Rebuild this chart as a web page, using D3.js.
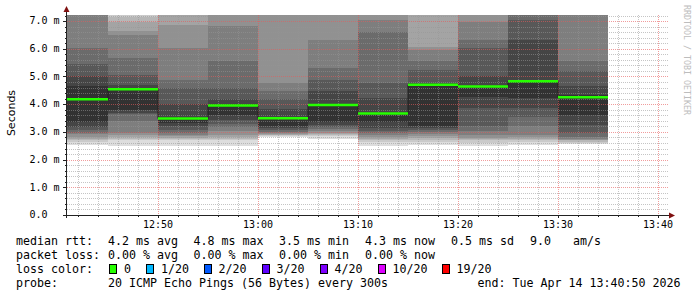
<!DOCTYPE html>
<html>
<head>
<meta charset="utf-8">
<script src="https://cdn.jsdelivr.net/npm/d3@7"></script>
<style>
body { margin: 0; background: #fff; }
svg { display: block; }
text { font-family: "DejaVu Sans Mono", monospace; fill: #000; }
</style>
</head>
<body>
<svg id="chart" width="697" height="297"></svg>
<script>
// end of each 300s step
const stepEnds = ["12:45", "12:50", "12:55", "13:00", "13:05", "13:10",
                  "13:15", "13:20", "13:25", "13:30", "13:35"];

// median rtt per step (ms)
const medians = [4.18, 4.54, 3.48, 3.95, 3.49, 3.97, 3.66, 4.70, 4.64, 4.83, 4.25];

// 20 sorted pings per step (ms), values above the top get clipped
const pings = [
    [2.52, 2.65, 2.72, 2.76, 2.83, 2.93, 2.97, 3.08, 3.19, 3.37, 4.67, 5.02, 5.44, 6.04, 7.60, 7.90, 8.30, 8.80, 9.40, 10.20],
    [2.50, 2.72, 2.76, 2.83, 2.90, 2.97, 3.40, 3.66, 3.69, 3.80, 4.56, 4.71, 5.07, 5.68, 6.48, 6.66, 6.98, 7.16, 7.40, 8.20],
    [2.50, 2.69, 2.74, 2.79, 2.85, 2.90, 2.97, 3.08, 3.22, 3.33, 3.55, 3.99, 4.60, 4.89, 6.04, 6.87, 7.40, 7.80, 8.30, 9.10],
    [2.50, 2.69, 2.76, 2.83, 2.90, 3.05, 3.19, 3.30, 3.44, 3.62, 4.02, 4.17, 4.60, 5.57, 6.84, 7.50, 7.90, 8.40, 9.00, 9.80],
    [2.81, 2.85, 2.87, 2.88, 2.92, 2.96, 3.01, 3.08, 3.15, 3.23, 3.55, 3.81, 4.20, 4.49, 4.78, 7.60, 8.00, 8.50, 9.20, 10.10],
    [2.76, 2.86, 2.90, 2.93, 2.97, 3.05, 3.12, 3.19, 3.26, 3.37, 4.02, 4.49, 4.89, 5.32, 6.30, 7.50, 7.90, 8.40, 9.00, 9.70],
    [2.50, 2.65, 2.72, 2.76, 2.83, 2.90, 2.97, 3.04, 3.15, 3.34, 3.70, 4.24, 4.78, 6.62, 7.05, 7.50, 7.90, 8.40, 9.10, 9.90],
    [2.54, 2.65, 2.72, 2.79, 2.86, 2.93, 3.01, 3.08, 3.15, 3.23, 4.67, 4.78, 5.25, 5.57, 5.94, 6.08, 7.40, 7.90, 8.50, 9.30],
    [2.50, 2.61, 2.69, 2.74, 2.79, 2.87, 3.05, 3.23, 3.88, 4.27, 4.67, 5.03, 6.04, 6.33, 6.95, 7.40, 7.80, 8.30, 8.90, 9.60],
    [2.54, 2.65, 2.72, 2.76, 2.83, 2.90, 3.23, 3.52, 3.88, 4.24, 4.89, 6.33, 7.05, 7.40, 7.70, 8.10, 8.60, 9.20, 9.90, 10.80],
    [2.58, 2.61, 2.65, 2.69, 2.72, 2.76, 2.83, 2.97, 3.26, 3.62, 4.35, 4.67, 5.21, 5.57, 7.40, 7.80, 8.20, 8.70, 9.30, 10.00]
];

// smoke shades, outer pair -> inner pair
const smokeGrays = ["#dddddd", "#cacaca", "#b7b7b7", "#a4a4a4", "#919191",
                    "#7e7e7e", "#6b6b6b", "#585858", "#454545", "#323232"];

const yTickValues = [0, 1, 2, 3, 4, 5, 6, 7];
const yLabels = ["0.0", "1.0 m", "2.0 m", "3.0 m", "4.0 m", "5.0 m", "6.0 m", "7.0 m"];
const xLabels = ["12:50", "13:00", "13:10", "13:20", "13:30", "13:40"];

const rttStats = ["4.2 ms avg", "4.8 ms max", "3.5 ms min", "4.3 ms now", "0.5 ms sd", "9.0", "am/s"];
const lossStats = ["0.00 % avg", "0.00 % max", "0.00 % min", "0.00 % now"];
const lossLabels = ["0", "1/20", "2/20", "3/20", "4/20", "10/20", "19/20"];
const lossColors = ["#26ff00", "#00b8ff", "#0059ff", "#5e00ff", "#7e00ff", "#dd00ff", "#ff0000"];

const parseT = d3.timeParse("%Y-%m-%d %H:%M:%S");
const T = s => parseT("2026-04-14 " + (s.length === 5 ? s + ":00" : s));

const pL = 67, pT = 15, plotW = 600, plotH = 200;
const t0 = T("12:40:54"), t1 = T("13:40:54");

const x = d3.scaleTime().domain([t0, t1]).range([pL, pL + plotW]);
const y = d3.scaleLinear().domain([0, 7.22]).range([pT + plotH, pT]);

const svg = d3.select("#chart");

svg.append("defs").append("clipPath").attr("id", "plot")
    .append("rect").attr("x", pL).attr("y", pT).attr("width", plotW).attr("height", plotH);

const steps = stepEnds.map((e, i) => {
    const end = T(e);
    const start = new Date(Math.max(+t0, +end - 300000));
    return { start, end, med: medians[i], p: pings[i] };
});

// smoke
const smoke = svg.append("g").attr("clip-path", "url(#plot)");
steps.forEach(s => {
    smoke.selectAll(null)
        .data(smokeGrays.map((c, i) => ({ lo: s.p[i], hi: s.p[19 - i], c })))
        .enter().append("rect")
        .attr("x", x(s.start))
        .attr("width", x(s.end) - x(s.start))
        .attr("y", d => y(d.hi))
        .attr("height", d => y(d.lo) - y(d.hi))
        .attr("fill", d => d.c)
        .attr("shape-rendering", "crispEdges");
});

// grid on top of smoke
const grid = svg.append("g").attr("shape-rendering", "crispEdges");
const minorY = d3.range(1, 37).map(d => d * 0.2).filter(v => Math.abs(v - Math.round(v)) > 1e-6 && v <= 7.22);
grid.selectAll(".hmin").data(minorY).enter().append("line")
    .attr("x1", pL).attr("x2", pL + plotW + 1)
    .attr("y1", d => Math.round(y(d)) + 0.5).attr("y2", d => Math.round(y(d)) + 0.5)
    .attr("stroke", "rgba(150,150,150,0.55)").attr("stroke-dasharray", "1,1");
const minorX = d3.timeMinute.every(2).range(t0, t1).filter(d => d.getMinutes() % 10 !== 0);
grid.selectAll(".vmin").data(minorX).enter().append("line")
    .attr("x1", d => Math.round(x(d)) + 0.5).attr("x2", d => Math.round(x(d)) + 0.5)
    .attr("y1", pT).attr("y2", pT + plotH)
    .attr("stroke", "rgba(150,150,150,0.55)").attr("stroke-dasharray", "1,1");
grid.selectAll(".hmaj").data(yTickValues.slice(1)).enter().append("line")
    .attr("x1", pL).attr("x2", pL + plotW + 1)
    .attr("y1", d => Math.round(y(d)) + 0.5).attr("y2", d => Math.round(y(d)) + 0.5)
    .attr("stroke", "rgba(230,90,90,0.6)").attr("stroke-dasharray", "1,1");
grid.selectAll(".vmaj").data(xLabels).enter().append("line")
    .attr("x1", d => Math.round(x(T(d))) + 0.5).attr("x2", d => Math.round(x(T(d))) + 0.5)
    .attr("y1", pT).attr("y2", pT + plotH)
    .attr("stroke", "rgba(230,90,90,0.6)").attr("stroke-dasharray", "1,1");

// median: dark step line then coloured segments
const medLine = d3.line().x(d => x(d.t)).y(d => y(d.v));
const stepPts = [];
steps.forEach(s => { stepPts.push({ t: s.start, v: s.med }, { t: s.end, v: s.med }); });
svg.append("path").attr("d", medLine(stepPts))
    .attr("fill", "none").attr("stroke", "#202020").attr("stroke-width", 1);
svg.selectAll(".med").data(steps).enter().append("line")
    .attr("x1", d => x(d.start)).attr("x2", d => x(d.end))
    .attr("y1", d => y(d.med)).attr("y2", d => y(d.med))
    .attr("stroke", lossColors[0]).attr("stroke-width", 2.5);

// axes
const axis = svg.append("g").attr("shape-rendering", "crispEdges").attr("stroke", "#222");
axis.append("line").attr("x1", pL - 0.5).attr("x2", pL - 0.5).attr("y1", pT + plotH + 3).attr("y2", 10);
axis.append("line").attr("x1", pL - 3).attr("x2", pL + plotW + 4).attr("y1", pT + plotH + 0.5).attr("y2", pT + plotH + 0.5);
axis.selectAll(".yt").data(d3.range(0, 37).map(d => d * 0.2)).enter().append("line")
    .attr("x1", (d, i) => i % 5 === 0 ? pL - 4 : pL - 2).attr("x2", pL)
    .attr("y1", d => Math.round(y(d)) + 0.5).attr("y2", d => Math.round(y(d)) + 0.5);
axis.selectAll(".xt").data(d3.timeMinute.every(2).range(t0, t1)).enter().append("line")
    .attr("x1", d => Math.round(x(d)) + 0.5).attr("x2", d => Math.round(x(d)) + 0.5)
    .attr("y1", pT + plotH).attr("y2", d => pT + plotH + (d.getMinutes() % 10 === 0 ? 3 : 2));

svg.append("path").attr("d", `M${pL - 0.5},6 L${pL - 3.5},12 L${pL + 2.5},12 Z`).attr("fill", "#7f1010");
svg.append("path").attr("d", `M${pL + plotW + 8},${pT + plotH + 0.5} L${pL + plotW + 2},${pT + plotH - 2.5} L${pL + plotW + 2},${pT + plotH + 3.5} Z`).attr("fill", "#7f1010");

// tick labels
svg.selectAll(".yl").data(yTickValues).enter().append("text")
    .attr("x", 29.5).attr("y", d => y(d) + 3.3)
    .attr("font-size", "10px")
    .text((d, i) => yLabels[i]);
svg.selectAll(".xl").data(xLabels).enter().append("text")
    .attr("x", d => x(T(d))).attr("y", 227.5)
    .attr("text-anchor", "middle").attr("font-size", "10px")
    .text(d => d);

svg.append("text")
    .attr("transform", "translate(15,113) rotate(-90)")
    .attr("text-anchor", "middle")
    .style("font-family", "'DejaVu Sans', sans-serif")
    .attr("font-size", "11px")
    .text("Seconds");

svg.append("text")
    .attr("transform", "translate(684,5) rotate(90)")
    .attr("font-size", "8.3px")
    .style("fill", "#bdbdbd")
    .text("RRDTOOL / TOBI OETIKER");

// legend
const lg = svg.append("g").attr("font-size", "11.63px").attr("xml:space", "preserve");
const colX = [108, 193.5, 279, 365, 451, 530, 573];
lg.append("text").attr("x", 16).attr("y", 245).text("median rtt:");
lg.selectAll(".rs").data(rttStats).enter().append("text")
    .attr("x", (d, i) => colX[i]).attr("y", 245).text(d => d);
lg.append("text").attr("x", 16).attr("y", 259).text("packet loss:");
lg.selectAll(".ls").data(lossStats).enter().append("text")
    .attr("x", (d, i) => colX[i]).attr("y", 259).text(d => d);
lg.append("text").attr("x", 16).attr("y", 273).text("loss color:");
const boxX = [109, 146, 203.5, 261.5, 319.5, 377.5, 441.5];
lg.selectAll(".lb").data(lossColors).enter().append("rect")
    .attr("x", (d, i) => boxX[i] + 0.5).attr("y", 264.5)
    .attr("width", 7).attr("height", 9)
    .attr("fill", d => d).attr("stroke", "#000").attr("shape-rendering", "crispEdges");
lg.selectAll(".ll").data(lossLabels).enter().append("text")
    .attr("x", (d, i) => boxX[i] + 15).attr("y", 273).text(d => d);
lg.append("text").attr("x", 16).attr("y", 287).text("probe:");
lg.append("text").attr("x", 108).attr("y", 287).text("20 ICMP Echo Pings (56 Bytes) every 300s");
lg.append("text").attr("x", 680.5).attr("y", 287).attr("text-anchor", "end").text("end: Tue Apr 14 13:40:50 2026");
</script>
</body>
</html>
